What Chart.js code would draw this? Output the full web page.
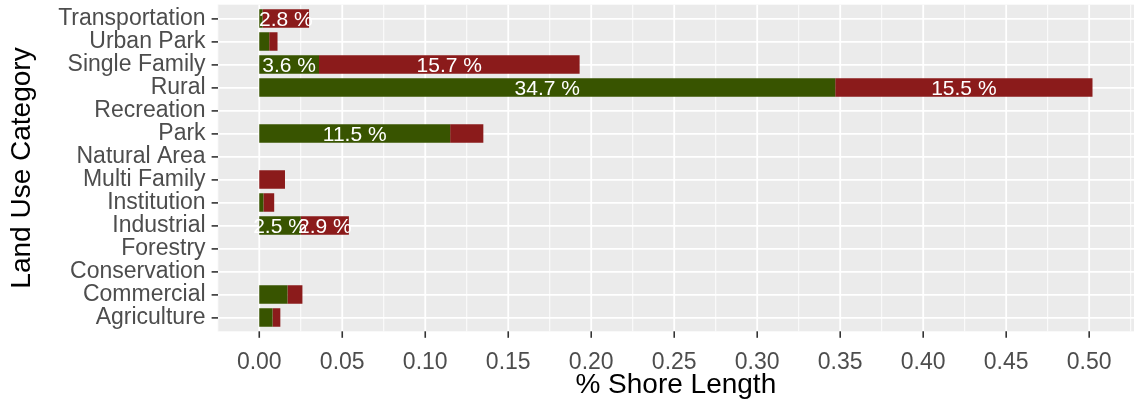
<!DOCTYPE html>
<html>
<head>
<meta charset="utf-8">
<script src="https://cdn.jsdelivr.net/npm/chart.js@4"></script>
<style>
  html, body { margin: 0; padding: 0; background: #ffffff; }
  #wrap { width: 1134px; height: 409px; position: relative; }
</style>
</head>
<body>
<div id="wrap"><canvas id="c"></canvas></div>
<script>
// ---- data ----
const categories = ['Transportation', 'Urban Park', 'Single Family', 'Rural', 'Recreation', 'Park',
  'Natural Area', 'Multi Family', 'Institution', 'Industrial', 'Forestry', 'Conservation',
  'Commercial', 'Agriculture'];
const greenValues = [0.002, 0.006, 0.036, 0.347, 0, 0.115, 0, 0, 0.0025, 0.025, 0, 0, 0.017, 0.008];
const redValues   = [0.028, 0.005, 0.157, 0.155, 0, 0.020, 0, 0.0155, 0.0065, 0.029, 0, 0, 0.009, 0.0047];
const xTickValues = [0, 0.05, 0.10, 0.15, 0.20, 0.25, 0.30, 0.35, 0.40, 0.45, 0.50];
const xTickLabels = ['0.00', '0.05', '0.10', '0.15', '0.20', '0.25', '0.30', '0.35', '0.40', '0.45', '0.50'];
const xTitle = '% Shore Length';
const yTitle = 'Land Use Category';
const labelThreshold = 0.0249;

const GREEN = '#385400';
const RED = '#8b1b1b';
const FONT = '"Liberation Sans", Arial, Helvetica, sans-serif';

function panelRect(chart) {
  const a = chart.chartArea;
  const catH = (a.bottom - a.top) / categories.length;
  return { left: a.left, right: a.right, top: a.top - 0.1 * catH, bottom: a.bottom + 0.1 * catH };
}

const panelPlugin = {
  id: 'panel',
  beforeDraw(chart) {
    const ctx = chart.ctx;
    const p = panelRect(chart);
    const xs = chart.scales.x;
    ctx.save();
    ctx.fillStyle = '#ffffff';
    ctx.fillRect(0, 0, chart.width, chart.height);
    ctx.fillStyle = '#ebebeb';
    ctx.fillRect(p.left, p.top, p.right - p.left, p.bottom - p.top);
    ctx.strokeStyle = '#ffffff';
    const step = xTickValues[1] - xTickValues[0];
    const minors = xTickValues.map(v => v - step / 2).concat([xTickValues[xTickValues.length - 1] + step / 2]);
    ctx.lineWidth = 0.9;
    minors.forEach(v => {
      if (v < xs.min || v > xs.max) return;
      const px = xs.getPixelForValue(v);
      ctx.beginPath(); ctx.moveTo(px, p.top); ctx.lineTo(px, p.bottom); ctx.stroke();
    });
    ctx.lineWidth = 1.8;
    xTickValues.forEach(v => {
      const px = xs.getPixelForValue(v);
      ctx.beginPath(); ctx.moveTo(px, p.top); ctx.lineTo(px, p.bottom); ctx.stroke();
    });
    ctx.restore();
  },
  afterDatasetsDraw(chart) {
    const ctx = chart.ctx;
    ctx.save();
    ctx.font = '21px ' + FONT;
    ctx.fillStyle = '#ffffff';
    ctx.textAlign = 'center';
    ctx.textBaseline = 'middle';
    chart.data.datasets.forEach((ds, di) => {
      const meta = chart.getDatasetMeta(di);
      meta.data.forEach((el, i) => {
        const v = ds.data[i];
        if (v >= labelThreshold) {
          const cx = (el.x + el.base) / 2;
          ctx.fillText((v * 100).toFixed(1) + ' %', cx, el.y + 1.5);
        }
      });
    });
    ctx.restore();
  },
  afterDraw(chart) {
    const ctx = chart.ctx;
    const p = panelRect(chart);
    const xs = chart.scales.x;
    ctx.save();
    ctx.strokeStyle = '#333333';
    ctx.lineWidth = 1.6;
    xTickValues.forEach(v => {
      const px = xs.getPixelForValue(v);
      ctx.beginPath(); ctx.moveTo(px, p.bottom); ctx.lineTo(px, p.bottom + 6.5); ctx.stroke();
    });
    ctx.restore();
  }
};

new Chart(document.getElementById('c'), {
  type: 'bar',
  data: {
    labels: categories,
    datasets: [
      { label: 'green', data: greenValues, backgroundColor: GREEN, borderWidth: 0,
        barPercentage: 0.8, categoryPercentage: 1.0 },
      { label: 'red', data: redValues, backgroundColor: RED, borderWidth: 0,
        barPercentage: 0.8, categoryPercentage: 1.0 }
    ]
  },
  options: {
    indexAxis: 'y',
    responsive: true,
    maintainAspectRatio: false,
    animation: false,
    devicePixelRatio: 1,
    layout: { padding: { top: 7.0, left: 0, right: 0, bottom: 0 } },
    plugins: {
      legend: { display: false },
      tooltip: { enabled: false }
    },
    scales: {
      x: {
        type: 'linear',
        stacked: true,
        min: -0.0251,
        max: 0.527,
        afterBuildTicks: s => { s.ticks = xTickValues.map(v => ({ value: v })); },
        afterFit: s => { s.height = 80.0; s.paddingLeft = 0; s.paddingRight = 0; },
        grid: { display: false },
        border: { display: false },
        ticks: {
          autoSkip: false,
          maxRotation: 0,
          padding: 11.5,
          color: '#4d4d4d',
          font: { family: FONT, size: 23 },
          callback: (v, i) => xTickLabels[i]
        },
        title: {
          display: true,
          text: xTitle,
          color: '#000000',
          font: { family: FONT, size: 28 },
          padding: { top: 0, bottom: 7.2 }
        }
      },
      y: {
        type: 'category',
        stacked: true,
        offset: true,
        afterFit: s => { s.width = 217.6; s.paddingTop = 0; s.paddingBottom = 0; },
        grid: {
          offset: false,
          color: '#ffffff',
          lineWidth: 1.8,
          drawOnChartArea: true,
          drawTicks: true,
          tickLength: 6,
          tickColor: '#333333',
          tickWidth: 1.6
        },
        border: { display: false },
        ticks: {
          autoSkip: false,
          padding: 6,
          color: '#4d4d4d',
          font: { family: FONT, size: 23 }
        },
        title: {
          display: true,
          text: yTitle,
          color: '#000000',
          font: { family: FONT, size: 28 },
          padding: { top: 5.2, bottom: 0 }
        }
      }
    }
  },
  plugins: [panelPlugin]
});
</script>
</body>
</html>
